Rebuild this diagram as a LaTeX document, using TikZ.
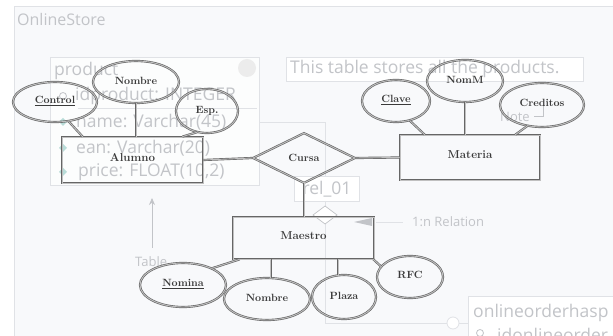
\documentclass[tikz,border=0pt]{standalone}
\usepackage{fontspec}
\setsansfont{Open Sans}
\usetikzlibrary{shapes.geometric,arrows.meta}
\definecolor{panelbg}{HTML}{F8F9FB}
\definecolor{faintline}{HTML}{E0E2E6}
\definecolor{fainttext}{HTML}{C2C4C8}
\definecolor{erdraw}{HTML}{666666}
\definecolor{erfill}{HTML}{C0C0C0}
\definecolor{ertext}{HTML}{3A3A3A}
\definecolor{icon}{HTML}{B8DCD8}
\tikzset{
  faint/.style={font=\sffamily\fontsize{17.5}{17.5}\selectfont, text=fainttext, inner sep=0pt},
  faintsmall/.style={font=\sffamily\fontsize{13}{13}\selectfont, text=fainttext, inner sep=0pt},
  fline/.style={draw=faintline, line width=0.8pt},
  erline/.style={draw=erdraw, double=erfill, double distance=0.9pt, line width=0.65pt},
  erlabel/.style={font=\bfseries\fontsize{10.5}{10.5}\selectfont, text=ertext},
  entity/.style={erline, rectangle, inner sep=0pt, erlabel, font=\bfseries\fontsize{11.5}{11.5}\selectfont},
  attr/.style={erline, ellipse, inner sep=0pt, erlabel},
  rel/.style={erline, diamond, inner sep=0pt, erlabel, aspect=2},
}
\begin{document}
\begin{tikzpicture}[x=1pt,y=-1pt]
\useasboundingbox (0,0) rectangle (613,336);
\fill[white] (0,0) rectangle (613,336);
% background panel
\fill[panelbg] (14,6) rectangle (613,336);
\draw[fline] (14,336) -- (14,6) -- (613,6);
\node[faint, font=\sffamily\fontsize{16}{16}\selectfont, anchor=west] (store) at (17,20) {OnlineStore};
% product table (faint)
\fill[white!60!panelbg] (50,57) rectangle (259,185);
\draw[fline] (50,57) rectangle (259,185);
\draw[fline] (78,108) -- (257,108);
\node[faint, anchor=west] (ptitle) at (54,71) {product};
\fill[gray!15] (247,68) circle (9);
\node[faint, anchor=west] (prow1) at (75,96) {idproduct: INTEGER};
\node[faint, anchor=west] (prow2) at (76,122) {name: Varchar(45)};
\node[faint, anchor=west] (prow3) at (76,148) {ean: Varchar(20)};
\node[faint, anchor=west] (prow4) at (78,172) {price: FLOAT(10,2)};
\draw[fainttext, line width=0.8pt] (63,96) circle (3.5);
\foreach \yy in {122,148,172}{\fill[icon] (63,\yy-4) -- (67,\yy) -- (63,\yy+4) -- (59,\yy) -- cycle;}
% note
\fill[white] (286,57) rectangle (583,81);
\draw[fline] (286,57) rectangle (583,81);
\node[faint, anchor=west] (notetext) at (290,69) {This table stores all the products.};
\node[faintsmall, anchor=west] (notelbl) at (500,117) {Note};
\draw[fainttext, line width=0.7pt] (543,106) -- (543,116) -- (534,116);
% relation lines (faint)
\coordinate (r1) at (259,122);
\coordinate (r2) at (325,122);
\coordinate (r3) at (325,323);
\draw[fline] (r1) -- (r2) -- (325,176);
\fill[white] (294,176) rectangle (359,201);
\draw[fline] (294,176) rectangle (359,201);
\node[faint, anchor=center] (rel01) at (327,189) {rel\_01};
\draw[fline] (325,201) -- (r3) -- (447,323);
\draw[fline, fill=white] (453,323) circle (6);
\draw[fline] (459,323) -- (468,323);
\draw[fainttext, fill=white, line width=0.7pt] (325,206) -- (337,215) -- (325,224) -- (313,215) -- cycle;
\fill[fainttext] (354,222) -- (372,218) -- (372,226) -- cycle;
\draw[fline] (376,222) -- (403,222);
\node[faintsmall, anchor=west] (onen) at (412,222) {1:n Relation};
\draw[fline, -{Stealth[length=7pt,width=6pt]}, draw=fainttext] (152,248) -- (152,198);
\node[faintsmall, anchor=west] (tbl) at (135,262) {Table};
% onlineorderhasp table
\fill[white] (468,296) rectangle (613,336);
\draw[fline] (613,296) -- (468,296) -- (468,336);
\node[faint, anchor=west] (otitle) at (473,313) {onlineorderhasp};
\node[faint, anchor=west] (orow) at (497,335) {idonlineorder};
\draw[fainttext, line width=0.8pt] (480,333) circle (3.5);
% ER diagram
\node[entity, minimum width=141pt, minimum height=46pt] (alumno) at (132.5,160) {\raisebox{6pt}{Alumno}};
\node[entity, minimum width=140pt, minimum height=45pt] (materia) at (470,157.5) {\raisebox{5pt}{Materia}};
\node[entity, minimum width=141pt, minimum height=42pt] (maestro) at (303.5,238) {\raisebox{5pt}{Maestro}};
\node[rel, minimum width=102pt, minimum height=50pt] (cursa) at (304,158) {Cursa};
\node[attr, minimum width=84pt, minimum height=40pt] (ctrl) at (55,102) {\raisebox{4pt}{\underline{Control}}};
\node[attr, minimum width=86pt, minimum height=42pt] (nom1) at (136,82) {\raisebox{2pt}{Nombre}};
\node[attr, minimum width=62pt, minimum height=44pt] (esp) at (207,111) {\raisebox{3pt}{Esp.}};
\node[attr, minimum width=68pt, minimum height=42pt] (clave) at (396,101) {\raisebox{4pt}{\underline{Clave}}};
\node[attr, minimum width=76pt, minimum height=42pt] (nomm) at (465,81) {\raisebox{2pt}{NomM}};
\node[attr, minimum width=84pt, minimum height=44pt] (cred) at (542,105) {\raisebox{4pt}{Creditos}};
\node[attr, minimum width=86pt, minimum height=44pt] (nomina) at (183,285) {\raisebox{4pt}{\underline{Nomina}}};
\node[attr, minimum width=86pt, minimum height=42pt] (nom2) at (267,299) {\raisebox{2pt}{Nombre}};
\node[attr, minimum width=64pt, minimum height=44pt] (plaza) at (344,297) {\raisebox{3pt}{Plaza}};
\node[attr, minimum width=66pt, minimum height=42pt] (rfc) at (410,277) {\raisebox{5pt}{RFC}};
% connectors
\draw[erline] (alumno.east) -- (cursa.west);
\draw[erline] (cursa.east) -- (materia.west);
\draw[erline] (cursa.south) -- (cursa.south |- maestro.north);
\draw[erline] (ctrl.-55) -- ([xshift=21pt]alumno.north west);
\draw[erline] (nom1.south) -- (nom1.south |- alumno.north);
\draw[erline] (esp.-115) -- ([xshift=-21pt]alumno.north east);
\draw[erline] (clave.-55) -- ([xshift=25pt]materia.north west);
\draw[erline] (nomm.south) -- (nomm.south |- materia.north);
\draw[erline] (cred.-125) -- ([xshift=-25pt]materia.north east);
\draw[erline] (nomina.30) -- ([xshift=7pt]maestro.south west);
\draw[erline] (nom2.80) -- (nom2.80 |- maestro.south);
\draw[erline] (plaza.105) -- (plaza.105 |- maestro.south);
\draw[erline] (rfc.160) -- ([xshift=-1pt]maestro.south east);
\end{tikzpicture}
\end{document}
